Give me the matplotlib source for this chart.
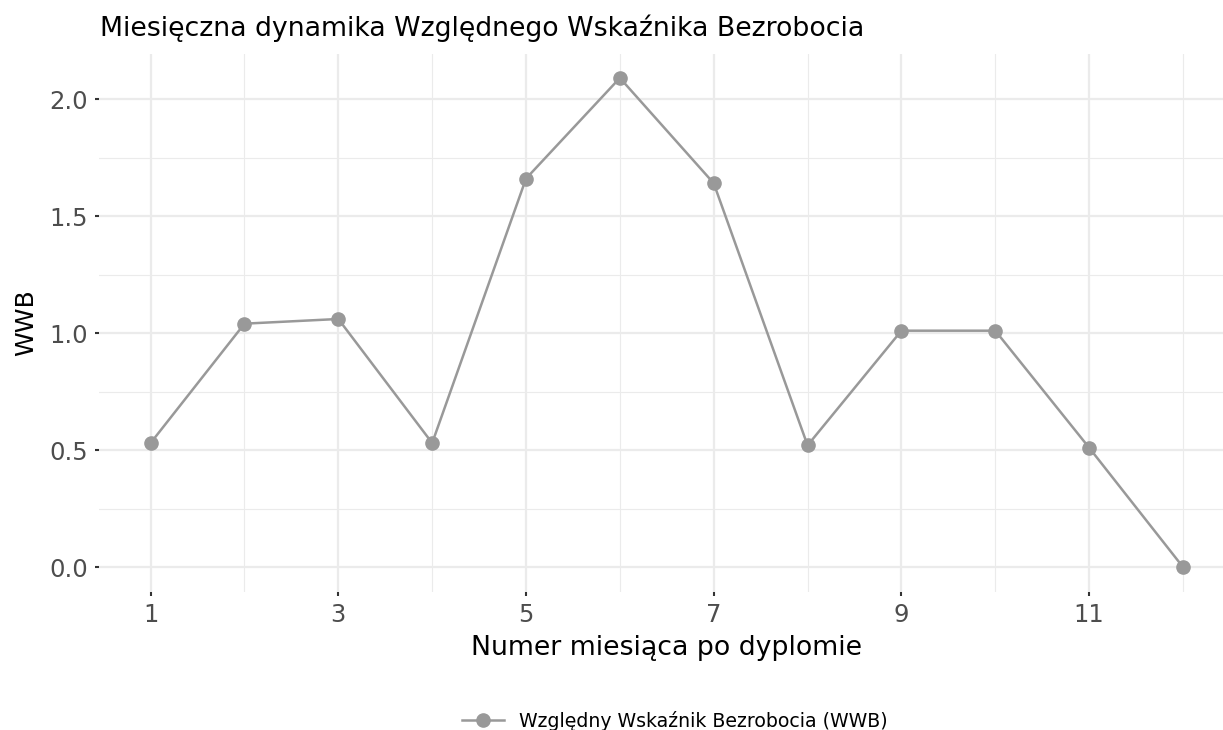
import matplotlib
matplotlib.use('Agg')
from matplotlib import pyplot as plt
from matplotlib.ticker import MultipleLocator

plt.rcParams['font.family'] = ['DejaVu Sans']

# dane
miesiace = [1, 2, 3, 4, 5, 6, 7, 8, 9, 10, 11, 12]
wwb = [0.53, 1.04, 1.06, 0.53, 1.66, 2.09, 1.64, 0.52, 1.01, 1.01, 0.51, 0.0]
xticks = [1, 3, 5, 7, 9, 11]
yticks = [0.0, 0.5, 1.0, 1.5, 2.0]

fig = plt.figure(figsize=(12.23, 7.30), dpi=100)
ax = fig.add_axes([99 / 1223, 1 - 591.5 / 730, (1234.6 - 99) / 1223, (591.5 - 53.5) / 730])

ax.plot(miesiace, wwb, color='#999999', lw=1.8, marker='o', markersize=9.5,
        label='Względny Wskaźnik Bezrobocia (WWB)', zorder=3)

ax.set_xlim(0.45, 12.55)
ax.set_ylim(-0.1045, 2.1945)
ax.set_xticks(xticks)
ax.set_yticks(yticks)
ax.set_yticklabels([f'{v:.1f}' for v in yticks])
ax.xaxis.set_minor_locator(MultipleLocator(1))
ax.yaxis.set_minor_locator(MultipleLocator(0.25))

ax.grid(which='major', color='#EBEBEB', lw=1.6)
ax.grid(which='minor', color='#EBEBEB', lw=0.8)
ax.set_axisbelow(True)
for s in ax.spines.values():
    s.set_visible(False)
ax.tick_params(which='major', length=3, width=1.5, color='#333333',
               labelsize=17.5, labelcolor='#4D4D4D', pad=5)
ax.tick_params(which='minor', length=0)

ax.set_xlabel('Numer miesiąca po dyplomie', fontsize=19.3, color='black', labelpad=6)
ax.set_ylabel('WWB', fontsize=18, color='black', labelpad=8)
fig.text(100 / 1223, 1 - 28 / 730, 'Miesięczna dynamika Względnego Wskaźnika Bezrobocia',
         fontsize=19.3, va='center', ha='left')

fig.legend(loc='center', bbox_to_anchor=(0.552, 1 - 721 / 730), frameon=False,
           fontsize=13.6, handlelength=2.2)

plt.savefig('out.png', dpi=100)
